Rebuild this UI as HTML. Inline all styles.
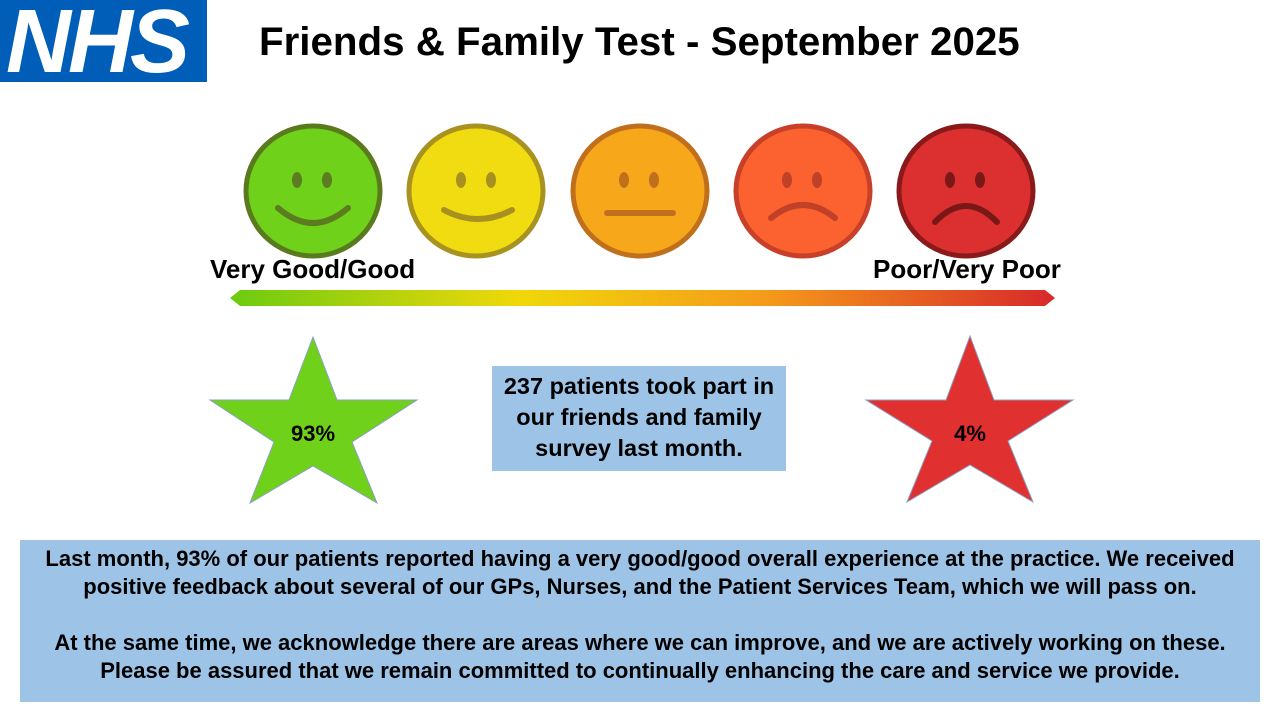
<!DOCTYPE html>
<html><head><meta charset="utf-8"><style>
body{margin:0;width:1280px;height:720px;background:#fff;position:relative;overflow:hidden;font-family:"Liberation Sans",sans-serif;font-weight:bold;}
.abs{position:absolute}
</style></head><body>
<div class="abs" style="left:0;top:0;width:207px;height:82px;background:#005EB8;"></div>
<div class="abs" style="left:6px;top:-9px;width:200px;font-size:90px;font-style:italic;color:#fff;letter-spacing:-3px;font-weight:900;">NHS</div>
<div class="abs" style="left:259px;top:19px;font-size:40.3px;color:#000;white-space:nowrap;">Friends &amp; Family Test - September 2025</div>
<svg class="abs" style="left:0;top:0" width="1280" height="720">
<defs>
<linearGradient id="g" x1="0" x2="1"><stop offset="0" stop-color="#6ccb10"/><stop offset="0.35" stop-color="#f0d80a"/><stop offset="0.65" stop-color="#f59a1a"/><stop offset="1" stop-color="#d8282a"/></linearGradient>
</defs>
<g stroke-width="5">
<ellipse cx="313" cy="191" rx="67" ry="65" fill="#6fd11a" stroke="#5a7a1e"/>
<ellipse cx="476" cy="191" rx="67" ry="65" fill="#f0dc10" stroke="#a89220"/>
<ellipse cx="640" cy="191" rx="67" ry="65" fill="#f7a81a" stroke="#c0701c"/>
<ellipse cx="803" cy="191" rx="67" ry="65" fill="#fb6230" stroke="#c8402a"/>
<ellipse cx="966" cy="191" rx="67" ry="65" fill="#dc3030" stroke="#8a1a1a"/>
</g>
<g fill="#5c7c20"><ellipse cx="297" cy="180" rx="5" ry="8"/><ellipse cx="327" cy="180" rx="5" ry="8"/></g>
<path d="M278 208 Q313 238 348 208" stroke="#5c7c20" stroke-width="6" fill="none" stroke-linecap="round"/>
<g fill="#a89020"><ellipse cx="461" cy="180" rx="5" ry="8"/><ellipse cx="491" cy="180" rx="5" ry="8"/></g>
<path d="M444 210 Q478 228 512 210" stroke="#a89020" stroke-width="6" fill="none" stroke-linecap="round"/>
<g fill="#c0701c"><ellipse cx="624" cy="180" rx="5" ry="8"/><ellipse cx="654" cy="180" rx="5" ry="8"/></g>
<path d="M607 213 L673 213" stroke="#c0701c" stroke-width="6" stroke-linecap="round"/>
<g fill="#c04028"><ellipse cx="787" cy="180" rx="5" ry="8"/><ellipse cx="817" cy="180" rx="5" ry="8"/></g>
<path d="M771 218 Q803 192 835 218" stroke="#c04028" stroke-width="6" fill="none" stroke-linecap="round"/>
<g fill="#7a1818"><ellipse cx="950" cy="180" rx="5" ry="8"/><ellipse cx="980" cy="180" rx="5" ry="8"/></g>
<path d="M935 222 Q966 190 997 222" stroke="#7a1818" stroke-width="6" fill="none" stroke-linecap="round"/>
<polygon points="230,298 240,290 1045,290 1055,298 1045,306 240,306" fill="url(#g)"/>
<polygon points="313,337 337,400 417,400 352,442 377,503 313,466 250,503 274,442 210,400 289,400" fill="#6fd11a" stroke="#8aa0c0" stroke-width="1"/>
<polygon points="970,336 994,400 1073,400 1008,441 1033,502 970,465 907,502 932,441 866,400 946,400" fill="#e03030" stroke="#8aa0c0" stroke-width="1"/>
<text x="313" y="441" font-size="22" text-anchor="middle" font-family="Liberation Sans" font-weight="bold">93%</text>
<text x="970" y="441" font-size="22" text-anchor="middle" font-family="Liberation Sans" font-weight="bold">4%</text>
</svg>
<div class="abs" style="left:210px;top:254px;font-size:26px;white-space:nowrap;">Very Good/Good</div>
<div class="abs" style="left:873px;top:254px;font-size:26px;white-space:nowrap;">Poor/Very Poor</div>
<div class="abs" style="left:492px;top:366px;width:294px;height:105px;background:#9dc3e6;font-size:23.5px;text-align:center;line-height:31px;padding-top:5px;box-sizing:border-box;white-space:nowrap;">237 patients took part in<br>our friends and family<br>survey last month.</div>
<div class="abs" style="left:20px;top:540px;width:1240px;height:162px;background:#9dc3e6;font-size:22px;text-align:center;line-height:28px;padding-top:5px;box-sizing:border-box;white-space:nowrap;">Last month, 93% of our patients reported having a very good/good overall experience at the practice. We received<br>positive feedback about several of our GPs, Nurses, and the Patient Services Team, which we will pass on.<br><br>At the same time, we acknowledge there are areas where we can improve, and we are actively working on these.<br>Please be assured that we remain committed to continually enhancing the care and service we provide.</div>
</body></html>
